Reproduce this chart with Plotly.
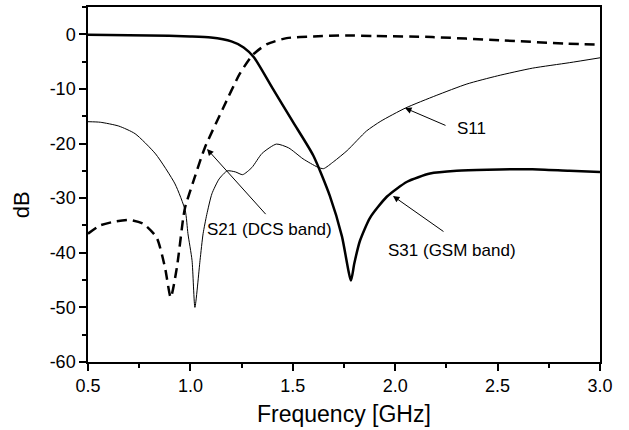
import plotly.graph_objects as go

# S11 (thin solid)
s11_f = [0.5, 0.56, 0.65, 0.73, 0.83, 0.925, 0.975, 0.988, 1.008, 1.022, 1.047, 1.062, 1.08, 1.105, 1.14, 1.18, 1.22, 1.255, 1.3, 1.35, 1.42, 1.48, 1.55, 1.62, 1.65, 1.7, 1.765, 1.86, 1.93, 2.05, 2.2, 2.35, 2.5, 2.67, 2.85, 3.0]
s11_db = [-16.0, -16.1, -16.8, -18.2, -21.9, -27.4, -32.3, -36.5, -41.4, -50.0, -41.4, -36.5, -33.0, -29.2, -26.5, -25.0, -25.2, -25.7, -24.4, -21.8, -20.1, -20.8, -22.8, -24.3, -24.6, -23.3, -21.3, -17.7, -15.9, -13.5, -11.2, -9.1, -7.6, -6.2, -5.2, -4.3]

# S21 (dashed, DCS band)
s21_f = [0.5, 0.559, 0.63, 0.705, 0.77, 0.835, 0.876, 0.904, 0.934, 0.965, 0.974, 1.02, 1.07, 1.16, 1.24, 1.306, 1.374, 1.47, 1.6, 1.76, 1.9, 2.18, 2.51, 2.84, 3.0]
s21_db = [-36.5, -35.0, -34.3, -34.0, -34.7, -37.2, -42.7, -48.2, -42.7, -33.6, -31.7, -26.3, -20.8, -13.5, -7.3, -3.7, -1.8, -0.7, -0.4, -0.2, -0.3, -0.5, -1.1, -1.7, -1.9]

# S31 (thick solid, GSM band)
s31_f = [0.5, 0.8, 1.0, 1.1, 1.2, 1.26, 1.31, 1.4, 1.5, 1.6, 1.68, 1.74, 1.784, 1.8, 1.828, 1.877, 1.96, 2.058, 2.17, 2.3, 2.45, 2.67, 2.85, 3.0]
s31_db = [-0.1, -0.2, -0.4, -0.6, -1.3, -2.4, -4.2, -9.8, -16.0, -22.2, -29.5, -37.0, -45.1, -42.0, -37.8, -33.6, -29.7, -27.0, -25.5, -25.0, -24.8, -24.7, -25.0, -25.2]

x_ticks = [0.5, 1.0, 1.5, 2.0, 2.5, 3.0]
x_tick_labels = ["0.5", "1.0", "1.5", "2.0", "2.5", "3.0"]
y_ticks = [0, -10, -20, -30, -40, -50, -60]
y_tick_labels = ["0", "-10", "-20", "-30", "-40", "-50", "-60"]

# label text, text anchor (f, dB), arrow tail (f, dB), arrow tip (f, dB)
labels = ["S11", "S21 (DCS band)", "S31 (GSM band)"]
label_f = [2.292, 1.071, 1.955]
label_db = [-17.2, -35.8, -39.6]
tail_f = [2.253, 1.374, 2.243]
tail_db = [-16.8, -33.2, -36.3]
tip_f = [2.048, 1.081, 1.989]
tip_db = [-13.5, -21.0, -29.6]

FONT = "Arial, 'Liberation Sans', sans-serif"

fig = go.Figure()
fig.add_trace(go.Scatter(x=s11_f, y=s11_db, mode="lines",
                         line=dict(color="black", width=1, shape="spline", smoothing=0.6)))
fig.add_trace(go.Scatter(x=s21_f, y=s21_db, mode="lines",
                         line=dict(color="black", width=2.5, dash="10px,6px", shape="spline", smoothing=0.6)))
fig.add_trace(go.Scatter(x=s31_f, y=s31_db, mode="lines",
                         line=dict(color="black", width=2.5, shape="spline", smoothing=0.6)))

for i in range(len(labels)):
    fig.add_annotation(x=label_f[i], y=label_db[i], xref="x", yref="y", text=labels[i],
                       showarrow=False, xanchor="left", yanchor="middle",
                       font=dict(family=FONT, size=17, color="black"))
    fig.add_annotation(x=tip_f[i], y=tip_db[i], xref="x", yref="y",
                       ax=tail_f[i], ay=tail_db[i], axref="x", ayref="y", text="",
                       showarrow=True, arrowhead=2, arrowsize=1.3, arrowwidth=1, arrowcolor="black")

fig.add_annotation(x=-0.131, y=0.444, xref="paper", yref="paper", text="dB",
                   showarrow=False, textangle=-90, xanchor="center", yanchor="middle",
                   font=dict(family=FONT, size=22, color="black"))
fig.add_annotation(x=0.5, y=-0.1457, xref="paper", yref="paper", text="Frequency [GHz]",
                   showarrow=False, xanchor="center", yanchor="middle",
                   font=dict(family=FONT, size=23, color="black"))

axis_common = dict(showgrid=False, zeroline=False, showline=True, linecolor="black", linewidth=1.5,
                   mirror=True, ticks="outside", ticklen=7, tickwidth=1.5, tickcolor="black",
                   tickfont=dict(family=FONT, size=18, color="black"))

fig.update_xaxes(range=[0.5, 3.0], tickvals=x_ticks, ticktext=x_tick_labels,
                 minor=dict(dtick=0.25, ticks="outside", ticklen=4, tickwidth=1.5, tickcolor="black"),
                 **axis_common)
fig.update_yaxes(range=[-60, 5], tickvals=y_ticks, ticktext=y_tick_labels,
                 minor=dict(dtick=5, ticks="outside", ticklen=4, tickwidth=1.5, tickcolor="black"),
                 **axis_common)

fig.update_layout(width=629, height=430, margin=dict(l=88, r=29, t=5, b=68),
                  paper_bgcolor="white", plot_bgcolor="white", showlegend=False,
                  font=dict(family=FONT, color="black"))

fig.write_html("out.html")
